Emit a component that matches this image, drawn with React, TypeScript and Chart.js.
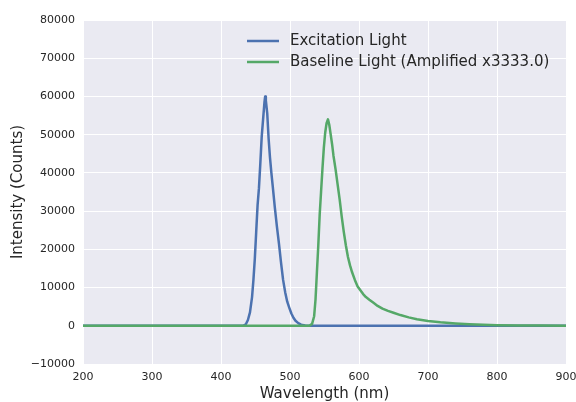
import React, { useEffect, useRef } from 'react';
import { Chart, registerables } from 'chart.js';

Chart.register(...registerables);

// Excitation light (blue)
const excitationWavelength = [200, 300, 400, 425, 432, 436, 439, 442, 445, 447, 449, 451, 453, 455, 457, 459, 461, 463, 464, 465, 467, 469, 471, 473, 475, 478, 481, 484, 487, 490, 493, 496, 499, 502, 505, 508, 512, 516, 522, 530, 600, 700, 800, 900];
const excitationCounts = [0, 0, 0, 0, 0, 400, 1500, 3500, 7500, 12000, 17500, 24500, 31500, 36000, 42500, 49500, 54000, 58500, 60000, 59000, 55600, 49000, 44000, 40000, 36500, 31000, 26000, 21500, 16500, 12000, 8800, 6300, 4700, 3200, 2100, 1300, 700, 300, 100, 0, 0, 0, 0, 0];

// Baseline light amplified (green)
const baselineWavelength = [200, 300, 400, 500, 528, 532, 535, 537, 539, 541, 543, 545, 547, 549, 551, 553, 555, 557, 559, 561, 563, 566, 569, 572, 575, 578, 581, 584, 587, 590, 594, 598, 602, 606, 610, 615, 621, 627, 634, 642, 650, 660, 672, 684, 700, 718, 740, 760, 780, 800, 830, 860, 900];
const baselineCounts = [0, 0, 0, 0, 0, 500, 2500, 6900, 14000, 21000, 29000, 35000, 41000, 46500, 50500, 53000, 54000, 52500, 50000, 47500, 44500, 41000, 37000, 33000, 28500, 24500, 21000, 18000, 15800, 14000, 12000, 10300, 9300, 8300, 7500, 6800, 6000, 5200, 4500, 3900, 3400, 2800, 2200, 1700, 1250, 900, 600, 400, 250, 150, 80, 40, 0];

const xTickValues = [200, 300, 400, 500, 600, 700, 800, 900];
const yTickValues = [-10000, 0, 10000, 20000, 30000, 40000, 50000, 60000, 70000, 80000];

const legendLabels = ['Excitation Light', 'Baseline Light (Amplified x3333.0)'];
const BLUE = '#4C72B0';
const GREEN = '#55A868';
const TEXT = '#262626';
const FONT = "'DejaVu Sans', sans-serif";

export default function App() {
  const ref = useRef<HTMLCanvasElement>(null);

  useEffect(() => {
    document.body.style.margin = '0';
    const canvas = ref.current;
    if (!canvas) return;

    const bgPlugin = {
      id: 'plotBg',
      beforeDraw(chart: any) {
        const { ctx, chartArea } = chart;
        ctx.save();
        ctx.fillStyle = '#EAEAF2';
        ctx.fillRect(chartArea.left, chartArea.top, chartArea.right - chartArea.left, chartArea.bottom - chartArea.top);
        ctx.restore();
      },
    };

    const legendPlugin = {
      id: 'customLegend',
      afterDraw(chart: any) {
        const { ctx, chartArea } = chart;
        const colors = [BLUE, GREEN];
        const x0 = chartArea.left + 164;
        const y0 = chartArea.top + 21;
        ctx.save();
        ctx.font = `15px ${FONT}`;
        ctx.textBaseline = 'middle';
        ctx.textAlign = 'left';
        legendLabels.forEach((label, i) => {
          const y = y0 + i * 21;
          ctx.strokeStyle = colors[i];
          ctx.lineWidth = 2.5;
          ctx.beginPath();
          ctx.moveTo(x0, y);
          ctx.lineTo(x0 + 32, y);
          ctx.stroke();
          ctx.fillStyle = TEXT;
          ctx.fillText(label, x0 + 43, y);
        });
        ctx.restore();
      },
    };

    const chart = new Chart(canvas, {
      type: 'line',
      data: {
        datasets: [
          {
            label: legendLabels[1],
            data: baselineWavelength.map((x, i) => ({ x, y: baselineCounts[i] })),
            borderColor: GREEN,
            borderWidth: 2.5,
            borderJoinStyle: 'round',
            pointRadius: 0,
            tension: 0,
            fill: false,
          },
          {
            label: legendLabels[0],
            data: excitationWavelength.map((x, i) => ({ x, y: excitationCounts[i] })),
            borderColor: BLUE,
            borderWidth: 2.5,
            borderJoinStyle: 'round',
            pointRadius: 0,
            tension: 0,
            fill: false,
          },
        ],
      },
      options: {
        responsive: false,
        animation: false,
        events: [],
        layout: { padding: { left: 0, right: 10, top: 20, bottom: 0 } },
        plugins: {
          legend: { display: false },
          tooltip: { enabled: false },
        },
        scales: {
          x: {
            type: 'linear',
            min: xTickValues[0],
            max: xTickValues[xTickValues.length - 1],
            afterBuildTicks: (scale: any) => {
              scale.ticks = xTickValues.map((v) => ({ value: v }));
            },
            afterFit: (scale: any) => {
              scale.height = 38;
              scale.paddingLeft = 0;
              scale.paddingRight = 0;
            },
            grid: { color: '#FFFFFF', lineWidth: 1, drawTicks: false },
            border: { display: false },
            ticks: {
              color: TEXT,
              font: { family: FONT, size: 11 },
              padding: 7,
              maxRotation: 0,
              autoSkip: false,
            },
            title: {
              display: true,
              text: 'Wavelength (nm)',
              color: TEXT,
              font: { family: FONT, size: 15 },
              padding: { top: 0, bottom: -1 },
            },
          },
          y: {
            type: 'linear',
            min: yTickValues[0],
            max: yTickValues[yTickValues.length - 1],
            afterBuildTicks: (scale: any) => {
              scale.ticks = yTickValues.map((v) => ({ value: v }));
            },
            afterFit: (scale: any) => {
              scale.width = 83;
              scale.paddingTop = 0;
              scale.paddingBottom = 0;
            },
            grid: { color: '#FFFFFF', lineWidth: 1, drawTicks: false },
            border: { display: false },
            ticks: {
              color: TEXT,
              font: { family: FONT, size: 11 },
              padding: 8,
              autoSkip: false,
              callback: (v: any) => (v < 0 ? '\u2212' + Math.abs(v) : String(v)),
            },
            title: {
              display: true,
              text: 'Intensity (Counts)',
              color: TEXT,
              font: { family: FONT, size: 15 },
              padding: { top: 9, bottom: 0 },
            },
          },
        },
      },
      plugins: [bgPlugin, legendPlugin],
    } as any);

    return () => chart.destroy();
  }, []);

  return (
    <div style={{ width: 576, height: 402 }}>
      <canvas ref={ref} width={576} height={402} style={{ display: 'block' }} />
    </div>
  );
}
